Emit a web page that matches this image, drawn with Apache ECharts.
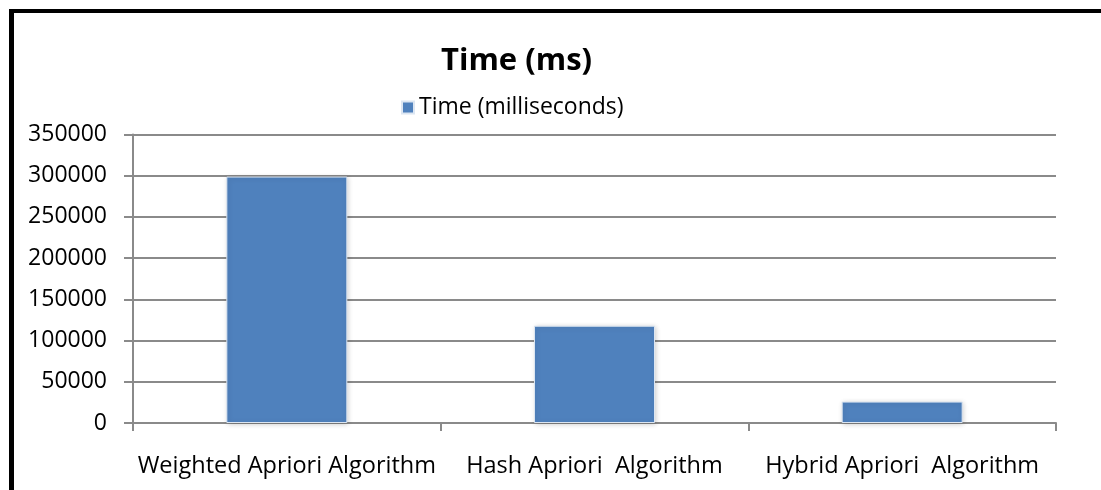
<!DOCTYPE html>
<html>
<head>
<meta charset="utf-8">
<style>
  html, body { margin: 0; padding: 0; background: #fff; }
  #chart { width: 1101px; height: 490px; }
</style>
<script src="https://cdn.jsdelivr.net/npm/echarts@6/dist/echarts.min.js"></script>
</head>
<body>
<div id="chart"></div>
<script>
// Execution time of each Apriori variant
const categories = ['Weighted Apriori Algorithm', 'Hash Apriori  Algorithm', 'Hybrid Apriori  Algorithm'];
const timeMs = [299000, 118000, 26000];
const seriesName = 'Time (milliseconds)';
const titleText = 'Time (ms)';

const FONT = '"Open Sans", sans-serif';
const GRID = '#8a8a8a';

const chart = echarts.init(document.getElementById('chart'), null, { renderer: 'canvas' });
chart.setOption({
  animation: false,
  backgroundColor: '#fff',
  title: {
    text: titleText,
    left: 436,
    top: 41,
    textStyle: { fontFamily: FONT, fontSize: 31, fontWeight: 'bold', color: '#000' }
  },
  legend: {
    data: [seriesName],
    left: 396,
    top: 91,
    icon: 'rect',
    itemWidth: 12,
    itemHeight: 12,
    itemGap: 9,
    textStyle: { fontFamily: FONT, fontSize: 23, color: '#000' }
  },
  grid: { left: 133, right: 45, top: 134.5, bottom: 67, containLabel: false },
  xAxis: {
    type: 'category',
    data: categories,
    axisLine: { lineStyle: { color: GRID, width: 2 } },
    axisTick: { show: true, length: 8, lineStyle: { color: GRID, width: 2 } },
    axisLabel: { interval: 0, fontFamily: FONT, fontSize: 23.5, color: '#000', margin: 31 }
  },
  yAxis: {
    type: 'value',
    min: 0,
    max: 350000,
    interval: 50000,
    axisLine: { show: true, lineStyle: { color: GRID, width: 2 } },
    axisTick: { show: true, length: 9, lineStyle: { color: GRID, width: 2 } },
    splitLine: { lineStyle: { color: GRID, width: 2 } },
    axisLabel: {
      fontFamily: FONT, fontSize: 23, color: '#000', margin: 26,
      formatter: v => String(v)
    }
  },
  series: [{
    name: seriesName,
    type: 'bar',
    data: timeMs,
    barWidth: 121,
    itemStyle: {
      color: '#4F81BD',
      borderColor: '#dce6f2',
      borderWidth: 1,
      shadowBlur: 5,
      shadowColor: 'rgba(0,0,0,0.18)',
      shadowOffsetX: 1,
      shadowOffsetY: 1
    }
  }],
  graphic: [
    // frame lines along the top and left edge
    { type: 'rect', shape: { x: 9, y: 9, width: 1092, height: 4 }, style: { fill: '#000' }, z: 100 },
    { type: 'rect', shape: { x: 9, y: 9, width: 5, height: 481 }, style: { fill: '#000' }, z: 100 }
  ]
});
</script>
</body>
</html>
